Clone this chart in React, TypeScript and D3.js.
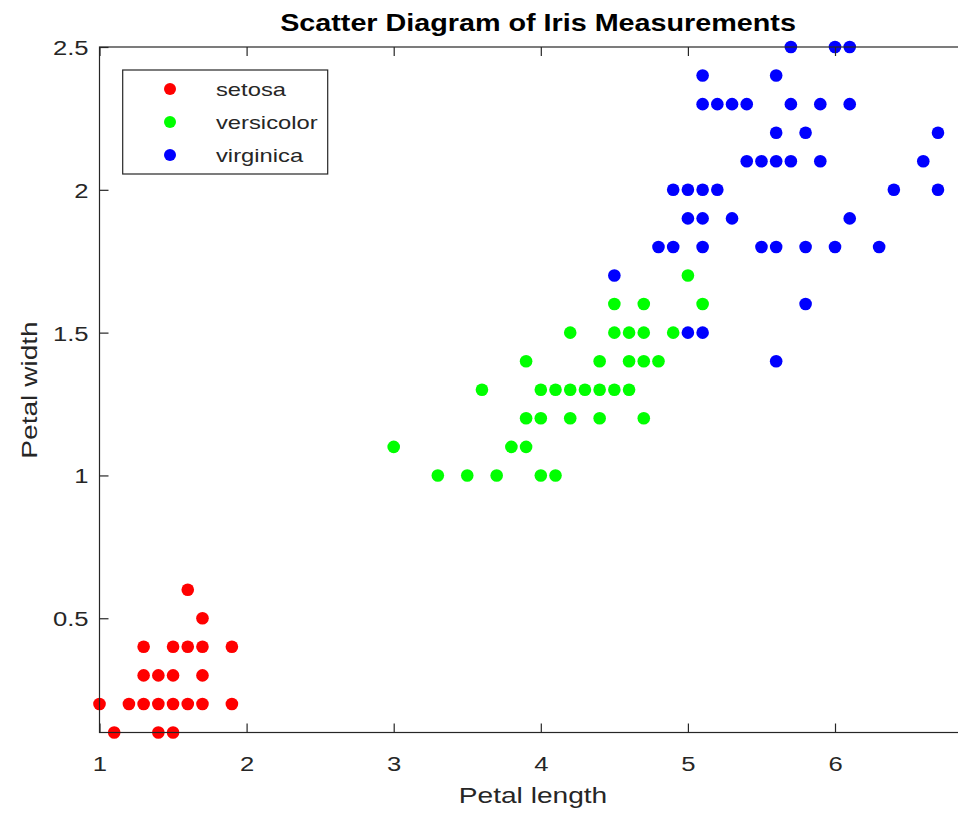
import React, { useEffect, useRef } from 'react';
import * as d3 from 'd3';

// petal length / petal width (one entry per visible dot)
const species = ['setosa', 'versicolor', 'virginica'];
const colors = ['#ff0000', '#00ff00', '#0000ff'];

const setosaLength = [1.6, 1.7, 1.3, 1.5, 1.6, 1.7, 1.9, 1.3, 1.4, 1.5, 1.7, 1.0, 1.2, 1.3, 1.4, 1.5, 1.6, 1.7, 1.9, 1.1, 1.4, 1.5];
const setosaWidth = [0.6, 0.5, 0.4, 0.4, 0.4, 0.4, 0.4, 0.3, 0.3, 0.3, 0.3, 0.2, 0.2, 0.2, 0.2, 0.2, 0.2, 0.2, 0.2, 0.1, 0.1, 0.1];

const versicolorLength = [
  5.0,
  4.5, 4.7, 5.1,
  4.2, 4.5, 4.6, 4.7, 4.9,
  3.9, 4.4, 4.6, 4.7, 4.8,
  3.6, 4.0, 4.1, 4.2, 4.3, 4.4, 4.5, 4.6,
  3.9, 4.0, 4.2, 4.4, 4.7,
  3.0, 3.8, 3.9,
  3.3, 3.5, 3.7, 4.0, 4.1,
];
const versicolorWidth = [
  1.7,
  1.6, 1.6, 1.6,
  1.5, 1.5, 1.5, 1.5, 1.5,
  1.4, 1.4, 1.4, 1.4, 1.4,
  1.3, 1.3, 1.3, 1.3, 1.3, 1.3, 1.3, 1.3,
  1.2, 1.2, 1.2, 1.2, 1.2,
  1.1, 1.1, 1.1,
  1.0, 1.0, 1.0, 1.0, 1.0,
];

const virginicaLength = [
  5.7, 6.0, 6.1,
  5.1, 5.6,
  5.1, 5.2, 5.3, 5.4, 5.7, 5.9, 6.1, 6.9,
  5.6, 5.8, 6.7,
  5.4, 5.5, 5.6, 5.7, 5.9, 6.6,
  4.9, 5.0, 5.1, 5.2, 6.4, 6.7,
  5.0, 5.1, 5.3, 6.1,
  4.8, 4.9, 5.1, 5.5, 5.6, 5.8, 6.0, 6.3,
  4.5,
  5.8,
  5.0, 5.1,
  5.6,
];
const virginicaWidth = [
  2.5, 2.5, 2.5,
  2.4, 2.4,
  2.3, 2.3, 2.3, 2.3, 2.3, 2.3, 2.3, 2.3,
  2.2, 2.2, 2.2,
  2.1, 2.1, 2.1, 2.1, 2.1, 2.1,
  2.0, 2.0, 2.0, 2.0, 2.0, 2.0,
  1.9, 1.9, 1.9, 1.9,
  1.8, 1.8, 1.8, 1.8, 1.8, 1.8, 1.8, 1.8,
  1.7,
  1.6,
  1.5, 1.5,
  1.4,
];

const xTicks = [1, 2, 3, 4, 5, 6];
const yTicks = [0.5, 1, 1.5, 2, 2.5];

const FONT = '"Liberation Sans", Arial, Helvetica, sans-serif';
const AXIS = '#262626';
const SX = 1.25; // the original text is drawn wider than Arial

const App: React.FC = () => {
  const ref = useRef<SVGSVGElement | null>(null);

  useEffect(() => {
    if (!ref.current) return;
    const svg = d3.select(ref.current);
    svg.selectAll('*').remove();

    const left = 99.5;
    const right = 967.4;
    const top = 47;
    const bottom = 732.5;

    const x = d3.scaleLinear().domain([1, 6.9]).range([left, right]);
    const y = d3.scaleLinear().domain([0.1, 2.5]).range([bottom, top]);

    const series = [
      { len: setosaLength, wid: setosaWidth },
      { len: versicolorLength, wid: versicolorWidth },
      { len: virginicaLength, wid: virginicaWidth },
    ];

    // points
    series.forEach((s, i) => {
      svg
        .append('g')
        .selectAll('circle')
        .data(d3.range(s.len.length))
        .enter()
        .append('circle')
        .attr('cx', (k) => x(s.len[k]))
        .attr('cy', (k) => y(s.wid[k]))
        .attr('r', 6.3)
        .attr('fill', colors[i]);
    });

    // axes box
    svg
      .append('rect')
      .attr('x', left)
      .attr('y', top)
      .attr('width', right - left)
      .attr('height', bottom - top)
      .attr('fill', 'none')
      .attr('stroke', AXIS)
      .attr('stroke-width', 1.2);

    const styleAxis = (g: any) => {
      g.select('.domain').remove();
      g.selectAll('line').attr('stroke', AXIS).attr('stroke-width', 1.2);
      g.selectAll('text')
        .attr('fill', AXIS)
        .attr('font-family', FONT)
        .attr('font-size', 20.5);
    };

    // bottom axis with labels
    const gx = svg
      .append('g')
      .attr('transform', `translate(0,${bottom})`)
      .call(d3.axisBottom(x).tickValues(xTicks).tickSizeInner(-9).tickSizeOuter(0).tickPadding(24).tickFormat(d3.format('d')));
    styleAxis(gx);
    gx.selectAll('text').attr('transform', `scale(${SX},1)`);

    // top axis ticks only
    const gt = svg
      .append('g')
      .attr('transform', `translate(0,${top})`)
      .call(d3.axisTop(x).tickValues(xTicks).tickSizeInner(-9).tickSizeOuter(0).tickFormat(() => ''));
    styleAxis(gt);

    // left axis with labels
    const gy = svg
      .append('g')
      .attr('transform', `translate(${left},0)`)
      .call(d3.axisLeft(y).tickValues(yTicks).tickSizeInner(-9).tickSizeOuter(0).tickFormat(d3.format('')));
    styleAxis(gy);
    gy.selectAll('text')
      .attr('x', -11 / SX)
      .attr('dy', '0.36em')
      .attr('transform', `scale(${SX},1)`);

    // right axis ticks only
    const gr = svg
      .append('g')
      .attr('transform', `translate(${right},0)`)
      .call(d3.axisRight(y).tickValues(yTicks).tickSizeInner(-9).tickSizeOuter(0).tickFormat(() => ''));
    styleAxis(gr);

    const stretched = (tx: number, ty: number, str: string, size: number, opts: { bold?: boolean; rotate?: number; fill?: string } = {}) => {
      svg
        .append('text')
        .attr('transform', `translate(${tx},${ty}) rotate(${opts.rotate || 0}) scale(${SX},1)`)
        .attr('text-anchor', 'middle')
        .attr('font-family', FONT)
        .attr('font-size', size)
        .attr('font-weight', opts.bold ? 'bold' : 'normal')
        .attr('fill', opts.fill || AXIS)
        .text(str);
    };

    stretched(538, 31, 'Scatter Diagram of Iris Measurements', 23, { bold: true, fill: '#000' });
    stretched(533, 803, 'Petal length', 22.5);
    stretched(36.5, 390, 'Petal width', 22.5, { rotate: -90 });

    // legend
    const lg = svg.append('g');
    lg.append('rect')
      .attr('x', 122.7)
      .attr('y', 70)
      .attr('width', 205)
      .attr('height', 104)
      .attr('fill', '#fff')
      .attr('stroke', AXIS)
      .attr('stroke-width', 1.2);
    const ly = d3.scalePoint<string>().domain(species).range([89, 155]);
    species.forEach((name, i) => {
      const cy = ly(name) || 0;
      lg.append('circle').attr('cx', 170).attr('cy', cy).attr('r', 6).attr('fill', colors[i]);
      lg.append('text')
        .attr('transform', `translate(216,${cy}) scale(${SX},1)`)
        .attr('dy', '0.35em')
        .attr('font-family', FONT)
        .attr('font-size', 19)
        .attr('fill', AXIS)
        .text(name);
    });
  }, []);

  return (
    <svg
      ref={ref}
      width={958}
      height={818}
      style={{ position: 'absolute', left: 0, top: 0, background: '#fff' }}
    />
  );
};

export default App;
